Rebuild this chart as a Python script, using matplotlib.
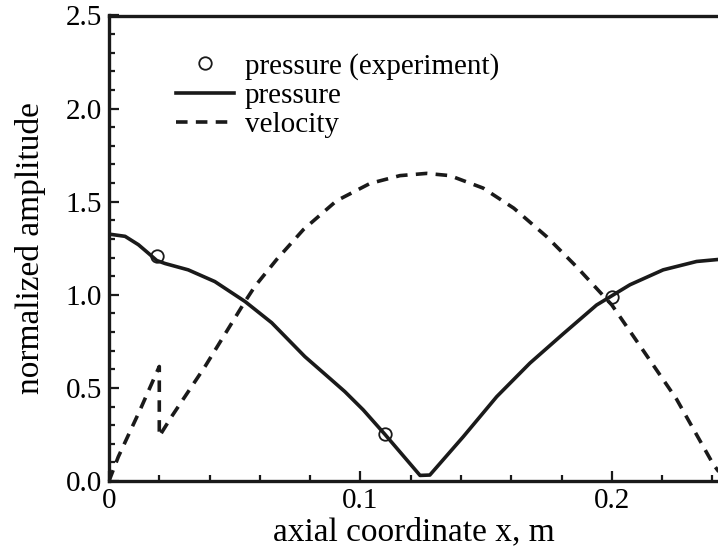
import numpy as np
import matplotlib
matplotlib.use("Agg")
import matplotlib.pyplot as plt
from matplotlib.ticker import MultipleLocator

plt.rcParams['font.family'] = 'serif'
plt.rcParams['font.serif'] = ['Liberation Serif', 'DejaVu Serif']

# computed pressure amplitude along the duct
x_p = [0.0, 0.0064, 0.0117, 0.0156, 0.019, 0.0223, 0.0315, 0.0421, 0.0541,
       0.0647, 0.0779, 0.0879, 0.0938, 0.1011, 0.1097, 0.1237, 0.1276, 0.1409,
       0.1542, 0.1674, 0.1806, 0.1939, 0.2072, 0.2204, 0.2337, 0.2425]
p = [1.326, 1.314, 1.269, 1.224, 1.184, 1.168, 1.134, 1.071, 0.964,
     0.85, 0.668, 0.55, 0.48, 0.382, 0.251, 0.03, 0.032, 0.238,
     0.453, 0.633, 0.79, 0.945, 1.054, 1.134, 1.179, 1.19]

# computed velocity amplitude (jump at the area change near x = 0.02)
x_v = [0.0, 0.0037, 0.0123, 0.0200, 0.0200, 0.0249, 0.0382, 0.0541, 0.058,
       0.0667, 0.0773, 0.0905, 0.1038, 0.1157, 0.1263, 0.1356, 0.1488, 0.161,
       0.174, 0.186, 0.2, 0.2125, 0.2257, 0.2403, 0.2425]
v = [0.0, 0.13, 0.38, 0.615, 0.24, 0.346, 0.615, 0.964, 1.045,
     1.19, 1.35, 1.505, 1.598, 1.64, 1.652, 1.64, 1.573, 1.465,
     1.313, 1.15, 0.945, 0.70, 0.44, 0.09, 0.05]

# measured pressure amplitude
x_exp = [0.0192, 0.1097, 0.2]
p_exp = [1.21, 0.251, 0.99]

xticks = [0.0, 0.1, 0.2]
xticklabels = ['0', '0.1', '0.2']
yticks = [0.0, 0.5, 1.0, 1.5, 2.0, 2.5]
yticklabels = ['0.0', '0.5', '1.0', '1.5', '2.0', '2.5']

fig = plt.figure(figsize=(7.18, 5.59), dpi=100)
ax = fig.add_axes([109 / 718, 1 - 481 / 559, 1 - 109 / 718, (481 - 15.5) / 559])

ax.plot(x_exp, p_exp, 'o', color='#1a1a1a', mfc='none', ms=9, mew=1.3,
        label='pressure (experiment)', clip_on=False)
ax.plot(x_p, p, '-', color='#1a1a1a', lw=2.6, solid_joinstyle='round',
        label='pressure')
ax.plot(x_v, v, '--', color='#1a1a1a', lw=2.6, dashes=(3.2, 2.3),
        label='velocity')

ax.set_xlim(0, 0.2422)
ax.set_ylim(0, 2.5)
ax.set_xticks(xticks)
ax.set_xticklabels(xticklabels)
ax.set_yticks(yticks)
ax.set_yticklabels(yticklabels)
ax.xaxis.set_minor_locator(MultipleLocator(0.02))
ax.yaxis.set_minor_locator(MultipleLocator(0.1))
ax.tick_params(which='both', direction='in', top=False, right=False,
               labelsize=21, width=1.6, color='#1a1a1a', pad=5)
ax.tick_params(which='major', length=7)
ax.tick_params(which='minor', length=4.5)

for side in ['left', 'bottom', 'top']:
    ax.spines[side].set_linewidth(2.4)
    ax.spines[side].set_color('#1a1a1a')
ax.spines['right'].set_visible(False)

ax.set_xlabel('axial coordinate x, m', fontsize=24, labelpad=2)
ax.set_ylabel('normalized amplitude', fontsize=24, labelpad=14)

ax.legend(loc='upper left', bbox_to_anchor=(0.11, 0.92), frameon=False,
          fontsize=21, handlelength=2.0, handletextpad=0.36,
          labelspacing=0.1, borderpad=0, borderaxespad=0)

fig.savefig('out.png', dpi=100)
